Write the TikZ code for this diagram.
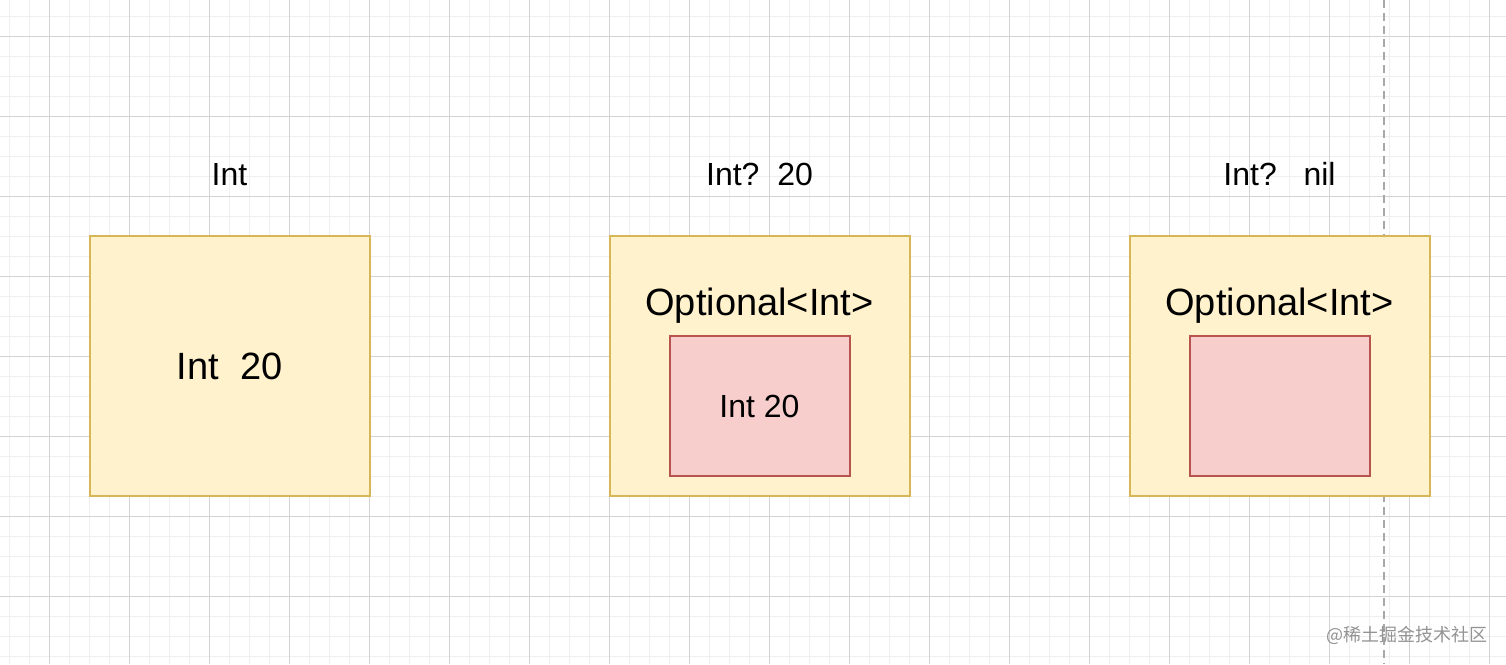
\documentclass[tikz,border=0pt]{standalone}
\usepackage{fontspec}
\setmainfont{Liberation Sans}
\newfontfamily\cjkfont{Noto Sans CJK SC}
\definecolor{boxfill}{HTML}{FFF2CC}
\definecolor{boxline}{HTML}{D6B656}
\definecolor{valfill}{HTML}{F8CECC}
\definecolor{valline}{HTML}{B85450}
\definecolor{gridminor}{HTML}{EFEFEF}
\definecolor{gridmajor}{HTML}{D3D3D3}
\definecolor{pageline}{HTML}{A8A8A8}
\begin{document}
\begin{tikzpicture}[
    x=1pt, y=-1pt,
    minorline/.style={gridminor, line width=1pt},
    majorline/.style={gridmajor, line width=1pt},
    capfont/.style={font=\fontsize{32}{38}\selectfont, text height=22.9pt, text depth=0pt, inner sep=0pt},
    bigfont/.style={font=\fontsize{38}{45}\selectfont, text height=27.2pt, text depth=0pt, inner sep=0pt},
    outerbox/.style={rectangle, draw=boxline, fill=boxfill, line width=2pt, minimum width=280pt, minimum height=260pt, outer sep=0pt},
    widebox/.style={outerbox, minimum width=300pt},
    innerbox/.style={rectangle, draw=valline, fill=valfill, line width=2pt, minimum width=180pt, minimum height=140pt, outer sep=0pt}
]
\useasboundingbox (0,0) rectangle (1506,664);
\fill[white] (0,0) rectangle (1506,664);
% grid
\foreach \gx in {9.5,29.5,...,1500}
    \draw[minorline] (\gx,0) -- (\gx,664);
\foreach \gy in {16,36,...,660}
    \draw[minorline] (0,\gy) -- (1506,\gy);
\foreach \gx in {49.5,129.5,...,1500}
    \draw[majorline] (\gx,0) -- (\gx,664);
\foreach \gy in {36,116,...,660}
    \draw[majorline] (0,\gy) -- (1506,\gy);
% page break
\coordinate (pagetop) at (1384,0);
\coordinate (pagebot) at (1384,664);
\draw[pageline, line width=2pt, dash pattern=on 8pt off 5pt] (pagetop) -- (pagebot);
% Int
\node[capfont] (intcap) at (229.5,174.5) {Int};
\node[outerbox, bigfont, minimum width=280pt, minimum height=260pt] (intbox) at (229.5,366) {Int\ \ 20};
% Int? 20
\node[capfont] (optcap) at (759.5,174.5) {Int?\ \ 20};
\node[widebox] (optbox) at (759.5,366) {};
\node[bigfont] (optlabel) at (759.5,302) {Optional<Int>};
\node[innerbox, capfont, minimum width=180pt, minimum height=140pt] (optinner) at (759.5,406) {Int 20};
% Int? nil
\node[capfont] (nilcap) at (1279.5,174.5) {Int?\ \ \ nil};
\node[widebox] (nilbox) at (1279.5,366) {};
\node[bigfont] (nillabel) at (1279.5,302) {Optional<Int>};
\node[innerbox] (nilinner) at (1279.5,406) {};
% watermark
\node[font=\cjkfont\fontsize{18}{22}\selectfont, text=gray!85, inner sep=0pt] (mark) at (1407,635) {@稀土掘金技术社区};
\end{tikzpicture}
\end{document}
